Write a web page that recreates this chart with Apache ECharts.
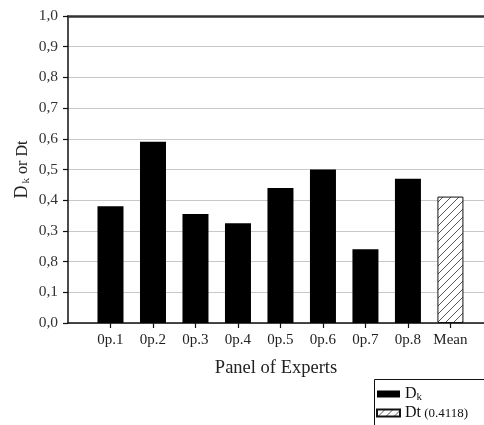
<!DOCTYPE html>
<html>
<head>
<meta charset="utf-8">
<script src="https://cdn.jsdelivr.net/npm/echarts@6/dist/echarts.min.js"></script>
<style>html,body{margin:0;padding:0;background:#fff}#c{width:484px;height:425px}</style>
</head>
<body>
<div id="c"></div>
<script>
var categories = ['0p.1','0p.2','0p.3','0p.4','0p.5','0p.6','0p.7','0p.8','Mean'];
var dkValues = [0.38, 0.59, 0.355, 0.325, 0.44, 0.50, 0.24, 0.47];
var meanValue = 0.4118;
var yTickLabels = ['0,0','0,1','0,8','0,3','0,4','0,5','0,6','0,7','0,8','0,9','1,0'];

var FONT = '"Liberation Serif", "DejaVu Serif", serif';

var pc = document.createElement('canvas');
pc.width = 8; pc.height = 8;
var ctx = pc.getContext('2d');
ctx.fillStyle = '#fff'; ctx.fillRect(0,0,8,8);
ctx.strokeStyle = '#444'; ctx.lineWidth = 0.9;
ctx.beginPath();
ctx.moveTo(0,8); ctx.lineTo(8,0);
ctx.moveTo(-1,1); ctx.lineTo(1,-1);
ctx.moveTo(7,9); ctx.lineTo(9,7);
ctx.stroke();

var dkData = dkValues.map(function(v,i){ return [i+1, v]; });
var meanData = [[categories.length, meanValue]];
var ticks = categories.map(function(c,i){ return i+1; });

var chart = echarts.init(document.getElementById('c'));
chart.setOption({
  animation: false,
  grid: {left: 68, right: 0, top: 16, bottom: 102, outerBoundsMode: 'none', containLabel: false},
  legend: {
    left: 376, top: 386, orient: 'vertical', itemWidth: 23, itemHeight: 7, itemGap: 2,
    padding: 0, icon: 'rect',
    data: ['Dk', 'Dt (0.4118)'],
    formatter: function(n){ return n === 'Dk' ? '{d|D}{s|k}' : '{d|Dt}{t| (0.4118)}'; },
    textStyle: {
      fontFamily: FONT, color: '#111',
      rich: {
        d: {fontSize: 16, fontFamily: FONT, color: '#111'},
        s: {fontSize: 11, fontFamily: FONT, color: '#111', padding: [7,0,0,0]},
        t: {fontSize: 13, fontFamily: FONT, color: '#111', padding: [2,0,0,0]}
      }
    }
  },
  graphic: [{
    type: 'rect', left: 372, top: 377, shape: {width: 200, height: 100},
    style: {fill: 'none', stroke: '#111', lineWidth: 1}
  }],
  xAxis: [{
    type: 'value', min: 0, max: 9.79, interval: 1,
    name: 'Panel of Experts', nameLocation: 'middle', nameGap: 36,
    nameTextStyle: {fontFamily: FONT, fontSize: 18.5, color: '#222'},
    axisLine: {show: true, lineStyle: {color: '#111', width: 1.5}},
    axisTick: {show: true, length: 5, customValues: ticks, lineStyle: {color: '#111', width: 1.2}},
    axisLabel: {
      customValues: ticks, margin: 10, fontFamily: FONT, fontSize: 15, color: '#222',
      formatter: function(v){ return categories[Math.round(v)-1] || ''; }
    },
    splitLine: {show: false}
  }, {
    type: 'value', min: 0, max: 9.79, position: 'top',
    axisLine: {show: true, lineStyle: {color: '#333', width: 2.5}},
    axisTick: {show: false}, axisLabel: {show: false}, splitLine: {show: false}
  }],
  yAxis: {
    type: 'value', min: 0, max: 1, interval: 0.1,
    name: '{d|D}{s|k}{o| or Dt}', nameLocation: 'middle', nameGap: 36, nameRotate: 90,
    nameMoveOverlap: false,
    nameTextStyle: {
      fontFamily: FONT, color: '#222',
      rich: {
        d: {fontSize: 18, fontFamily: FONT, color: '#222'},
        s: {fontSize: 11, fontFamily: FONT, color: '#222', padding: [8,0,0,2]},
        o: {fontSize: 16, fontFamily: FONT, color: '#222'}
      }
    },
    axisLine: {show: true, lineStyle: {color: '#111', width: 1.5}},
    axisTick: {show: true, length: 5, lineStyle: {color: '#111', width: 1.2}},
    axisLabel: {
      margin: 10, fontFamily: FONT, fontSize: 15.5, color: '#333',
      formatter: function(v){ return yTickLabels[Math.round(v*10)]; }
    },
    splitLine: {show: true, lineStyle: {color: '#c8c8c8', width: 1.2}}
  },
  series: [{
    name: 'Dk', type: 'bar', barWidth: 26, barGap: '-100%',
    itemStyle: {color: '#000'},
    data: dkData
  }, {
    name: 'Dt (0.4118)', type: 'bar', barWidth: 26, barGap: '-100%',
    itemStyle: {color: {image: pc, repeat: 'repeat'}, borderColor: '#111', borderWidth: 1},
    data: meanData
  }]
});
</script>
</body>
</html>
